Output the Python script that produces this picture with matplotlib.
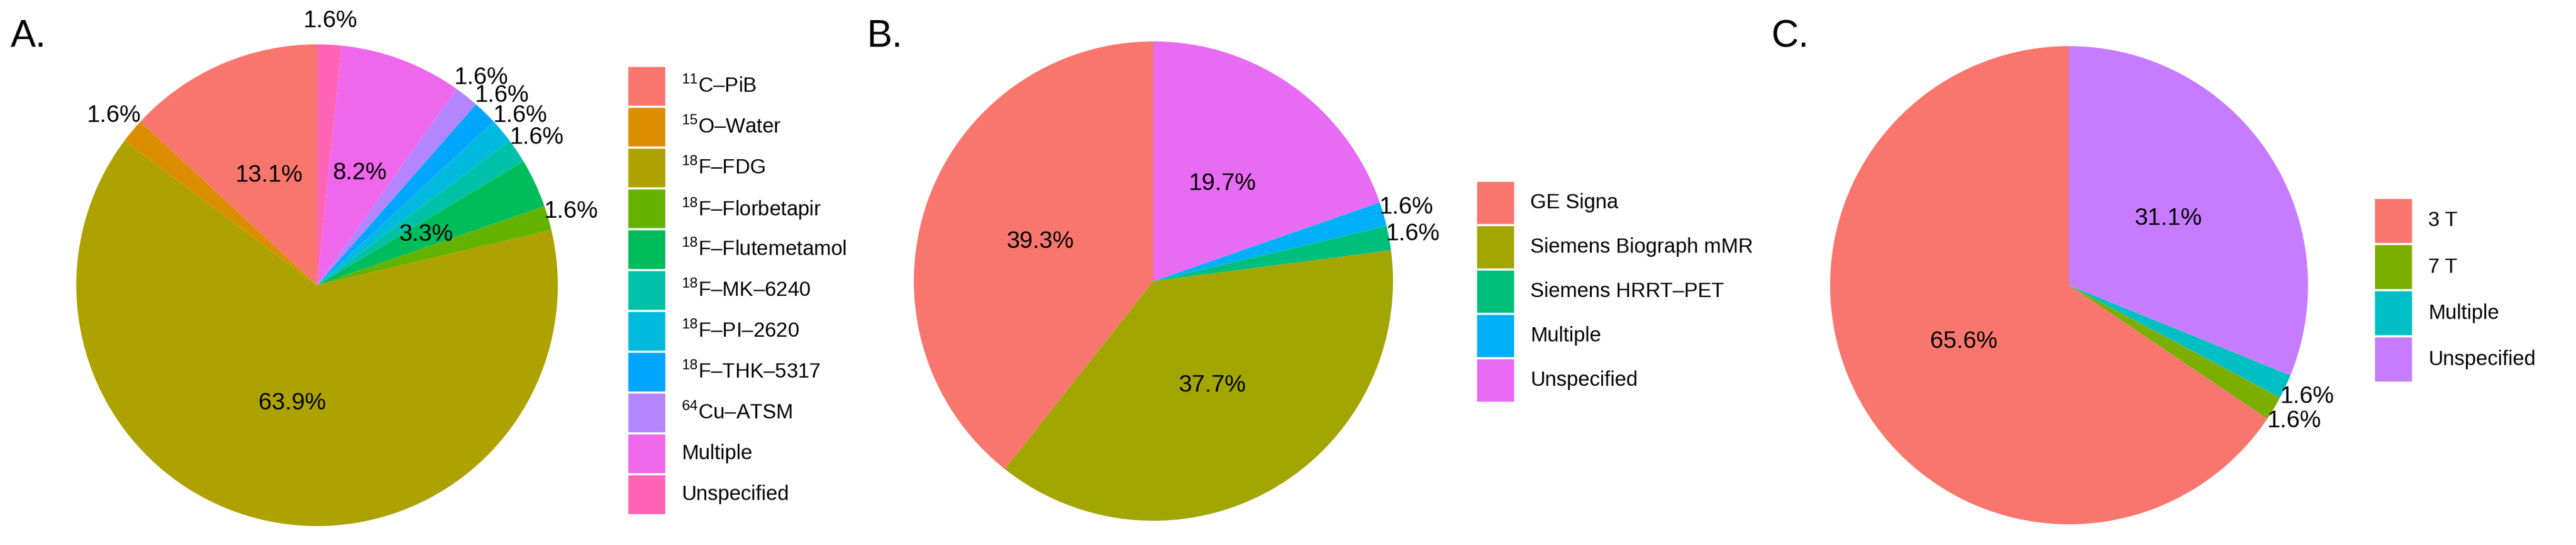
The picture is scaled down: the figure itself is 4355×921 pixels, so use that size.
import matplotlib
matplotlib.use("Agg")
import matplotlib.pyplot as plt
from matplotlib.patches import Rectangle
import numpy as np

plt.rcParams['font.family'] = ['Liberation Sans', 'DejaVu Sans']
plt.rcParams['mathtext.fontset'] = 'custom'
plt.rcParams['mathtext.rm'] = 'Liberation Sans'

tracer_labels = ["$^{11}$C–PiB", "$^{15}$O–Water", "$^{18}$F–FDG", "$^{18}$F–Florbetapir",
                 "$^{18}$F–Flutemetamol", "$^{18}$F–MK–6240", "$^{18}$F–PI–2620",
                 "$^{18}$F–THK–5317", "$^{64}$Cu–ATSM", "Multiple", "Unspecified"]
tracer_counts = [8, 1, 39, 1, 2, 1, 1, 1, 1, 5, 1]
tracer_colors = ["#F8766D", "#DB8E00", "#AEA200", "#64B200", "#00BD5C", "#00C1A7",
                 "#00BADE", "#00A6FF", "#B385FF", "#EF67EB", "#FF63B6"]

scanner_labels = ["GE Signa", "Siemens Biograph mMR", "Siemens HRRT–PET", "Multiple", "Unspecified"]
scanner_counts = [24, 23, 1, 1, 12]
scanner_colors = ["#F8766D", "#A3A500", "#00BF7D", "#00B0F6", "#E76BF3"]

field_labels = ["3 T", "7 T", "Multiple", "Unspecified"]
field_counts = [40, 1, 1, 19]
field_colors = ["#F8766D", "#7CAE00", "#00BFC4", "#C77CFF"]

W, H = 4355, 921
fig = plt.figure(figsize=(W/100, H/100), dpi=100)

def px_axes(cx, cy, r):
    return fig.add_axes([(cx - r)/W, 1 - (cy + r)/H, 2*r/W, 2*r/H])

def draw(cx, cy, r, counts, labels, colors, letter, lx, ly, legx, legy, keyh):
    ax = px_axes(cx, cy, r)
    total = sum(counts)
    ax.pie(counts, colors=colors, startangle=90, counterclock=True, radius=1,
           wedgeprops=dict(linewidth=0))
    ax.set_xlim(-1, 1); ax.set_ylim(-1, 1); ax.set_aspect('equal'); ax.axis('off')
    cum = 0
    for c in counts:
        mid = (cum + c/2)/total*2*np.pi
        cum += c
        pct = 100*c/total
        outside = pct < 2
        rr = 1.1 if outside else 0.5
        x, y = -rr*np.sin(mid), rr*np.cos(mid)
        ax.text(x, y, f"{pct:.1f}%", ha='center', va='center', fontsize=29, clip_on=False)
    fig.text(lx/W, 1 - ly/H, letter, fontsize=46, ha='left', va='center')
    keyw = 66
    for i, (lab, col) in enumerate(zip(labels, colors)):
        top = legy + i*keyh
        fig.patches.append(Rectangle((legx/W, 1 - (top + keyh)/H), keyw/W, keyh/H,
                                     transform=fig.transFigure, facecolor=col,
                                     edgecolor='white', linewidth=2.5))
        fig.text((legx + keyw + 26)/W, 1 - (top + keyh/2)/H, lab, fontsize=25,
                 ha='left', va='center')

draw(536, 482, 407, tracer_counts, tracer_labels, tracer_colors, "A.", 18, 62, 1060, 111, 69)
draw(1950, 475, 405, scanner_counts, scanner_labels, scanner_colors, "B.", 1466, 62, 2495, 305, 75)
draw(3498, 482, 404, field_counts, field_labels, field_colors, "C.", 2995, 62, 4013, 334, 78)

fig.savefig("out.png", dpi=100, facecolor='white')
